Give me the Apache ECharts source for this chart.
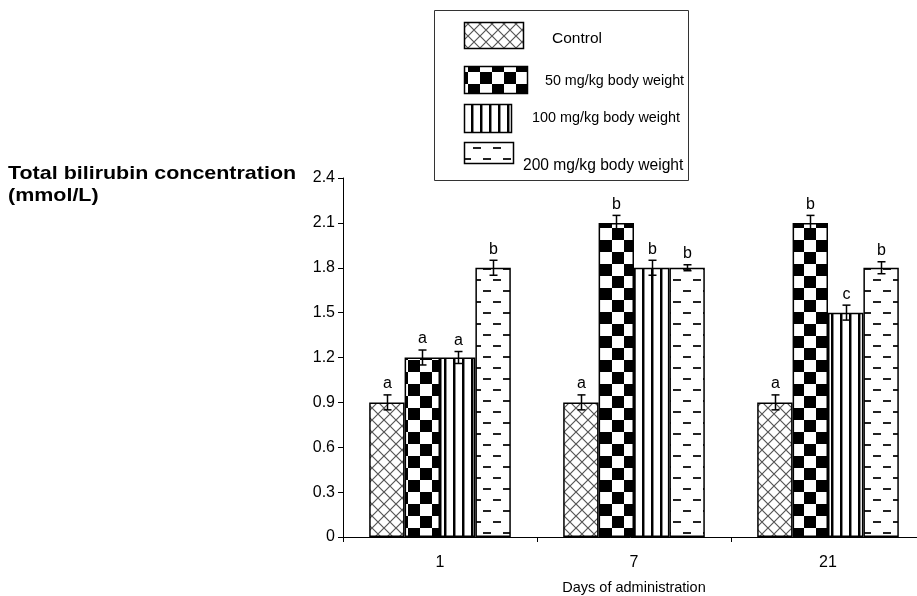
<!DOCTYPE html>
<html>
<head>
<meta charset="utf-8">
<script src="https://cdn.jsdelivr.net/npm/echarts@6/dist/echarts.min.js"></script>
<style>
  html, body { margin: 0; padding: 0; background: #fff; }
  #chart { width: 917px; height: 596px; }
</style>
</head>
<body>
<div id="chart"></div>
<script>
// Days on the x axis
const days = ['1', '7', '21'];
// Treatment groups
const groups = ['Control', '50 mg/kg body weight', '100 mg/kg body weight', '200 mg/kg body weight'];
// Mean total bilirubin (mmol/L) per group, one value per day
const control = [0.9, 0.9, 0.9];
const dose50 = [1.2, 2.1, 2.1];
const dose100 = [1.2, 1.8, 1.5];
const dose200 = [1.8, 1.8, 1.8];
// Error (± SEM) per group, one value per day
const errControl = [0.05, 0.05, 0.05];
const errDose50 = [0.05, 0.05, 0.05];
const errDose100 = [0.04, 0.05, 0.05];
const errDose200 = [0.05, 0.02, 0.04];
// Significance letters per group, one per day
const letControl = ['a', 'a', 'a'];
const letDose50 = ['a', 'b', 'b'];
const letDose100 = ['a', 'b', 'c'];
const letDose200 = ['b', 'b', 'b'];
// Y axis ticks
const yMin = 0, yMax = 2.4, yStep = 0.3;
// Axis titles
const yTitle = ['Total bilirubin concentration', '(mmol/L)'];
const xTitle = 'Days of administration';

const values = [control, dose50, dose100, dose200];
const errors = [errControl, errDose50, errDose100, errDose200];
const letters = [letControl, letDose50, letDose100, letDose200];
const FONT = '"Liberation Sans", Arial, sans-serif';

// ---- fill patterns ----
function tile(w, h, draw) {
  const c = document.createElement('canvas');
  c.width = w; c.height = h;
  const g = c.getContext('2d');
  g.fillStyle = '#fff';
  g.fillRect(0, 0, w, h);
  draw(g);
  return c;
}
const crossTile = tile(12, 12, g => {
  g.strokeStyle = '#555';
  g.lineWidth = 1.2;
  g.beginPath();
  g.moveTo(0, 0); g.lineTo(12, 12);
  g.moveTo(12, 0); g.lineTo(0, 12);
  g.stroke();
});
const checkTile = tile(24, 24, g => {
  g.fillStyle = '#000';
  g.fillRect(0, 0, 12, 12);
  g.fillRect(12, 12, 12, 12);
});
const stripeTile = tile(9, 9, g => {
  g.fillStyle = '#000';
  g.fillRect(3, 0, 2, 9);
  g.fillStyle = '#888';
  g.fillRect(5, 0, 1, 9);
});
const dashTile = tile(20, 22, g => {
  g.fillStyle = '#222';
  g.fillRect(3, 4, 8, 2);
  g.fillRect(13, 15, 8, 2);
  g.fillRect(-7, 15, 8, 2);
});
const patterns = [crossTile, checkTile, stripeTile, dashTile].map(
  c => ({ image: c, repeat: 'repeat' })
);

const GAP = 0.27; // barCategoryGap fraction

const barSeries = groups.map((name, i) => ({
  name: name,
  type: 'bar',
  data: values[i],
  barGap: '0%',
  barCategoryGap: (GAP * 100) + '%',
  itemStyle: { color: patterns[i], borderColor: '#000', borderWidth: 1.5 },
  silent: true
}));

// error bars and letters drawn from the same values
const errData = [];
groups.forEach((g, s) => {
  days.forEach((d, k) => {
    errData.push([k, values[s][k], errors[s][k], s, letters[s][k]]);
  });
});

const errSeries = {
  type: 'custom',
  silent: true,
  data: errData,
  encode: { x: 0, y: 1 },
  z: 5,
  renderItem: function (params, api) {
    const k = api.value(0);
    const v = api.value(1);
    const e = api.value(2);
    const s = api.value(3);
    const lt = errData[params.dataIndex][4];
    const band = api.size([1, 0])[0];
    const bw = band * (1 - GAP) / groups.length;
    const c = api.coord([k, v]);
    const x = Math.round(c[0] + (s - (groups.length - 1) / 2) * bw) + 0.5;
    const top = api.coord([k, v + e])[1];
    const bot = api.coord([k, v - e])[1];
    const cap = 4;
    const st = { stroke: '#000', lineWidth: 1.5 };
    return {
      type: 'group',
      children: [
        { type: 'line', shape: { x1: x, y1: top, x2: x, y2: bot }, style: st },
        { type: 'line', shape: { x1: x - cap, y1: top, x2: x + cap, y2: top }, style: st },
        { type: 'line', shape: { x1: x - cap, y1: bot, x2: x + cap, y2: bot }, style: st },
        {
          type: 'text',
          style: {
            text: lt, x: x, y: top - 3,
            align: 'center', verticalAlign: 'bottom',
            fill: '#000', font: '16px ' + FONT
          }
        }
      ]
    };
  }
};

// legend box
const legendIcons = [
  { x: 464, y: 22, w: 59, h: 26, tx: 552, ty: 39, fs: 15.5 },
  { x: 464, y: 66, w: 63, h: 27, tx: 545, ty: 81, fs: 14.3 },
  { x: 464, y: 104, w: 47, h: 28, tx: 532, ty: 118, fs: 14.4 },
  { x: 464, y: 142, w: 49, h: 21, tx: 523, ty: 166, fs: 15.6 }
];
const graphics = [{
  type: 'rect',
  shape: { x: 434.5, y: 10.5, width: 254, height: 170 },
  style: { fill: '#fff', stroke: '#333', lineWidth: 1 },
  silent: true
}];
legendIcons.forEach((p, i) => {
  graphics.push({
    type: 'rect',
    shape: { x: p.x + 0.5, y: p.y + 0.5, width: p.w, height: p.h },
    style: { fill: patterns[i], stroke: '#000', lineWidth: 1.5 },
    silent: true
  });
  graphics.push({
    type: 'text',
    style: {
      text: groups[i], x: p.tx, y: p.ty,
      verticalAlign: 'middle', fill: '#000',
      font: p.fs + 'px ' + FONT
    },
    silent: true
  });
});
// y axis title, set in wide bold type at the top left
yTitle.forEach((line, i) => {
  graphics.push({
    type: 'text',
    x: 8, y: 174 + i * 22,
    scaleX: 1.16,
    style: {
      text: line, x: 0, y: 0,
      verticalAlign: 'middle', fill: '#000',
      font: 'bold 18.5px ' + FONT
    },
    silent: true
  });
});

const chart = echarts.init(document.getElementById('chart'), null, { renderer: 'canvas' });
chart.setOption({
  animation: false,
  backgroundColor: '#fff',
  textStyle: { fontFamily: FONT },
  grid: { left: 343, top: 178, width: 582, height: 359, containLabel: false, outerBoundsMode: 'none' },
  xAxis: {
    type: 'category',
    data: days,
    name: xTitle,
    nameLocation: 'middle',
    nameGap: 43,
    nameTextStyle: { fontSize: 14.5, color: '#000' },
    axisLine: { lineStyle: { color: '#000', width: 1 } },
    axisTick: { show: true, length: 5, lineStyle: { color: '#000' } },
    axisLabel: { fontSize: 16, color: '#000', margin: 18 },
    splitLine: { show: false }
  },
  yAxis: {
    type: 'value',
    min: yMin, max: yMax, interval: yStep,
    axisLine: { show: true, lineStyle: { color: '#000', width: 1 } },
    axisTick: { show: true, length: 5, lineStyle: { color: '#000' } },
    axisLabel: { fontSize: 16, color: '#000', margin: 8 },
    splitLine: { show: false }
  },
  series: barSeries.concat([errSeries]),
  graphic: graphics
});
</script>
</body>
</html>
